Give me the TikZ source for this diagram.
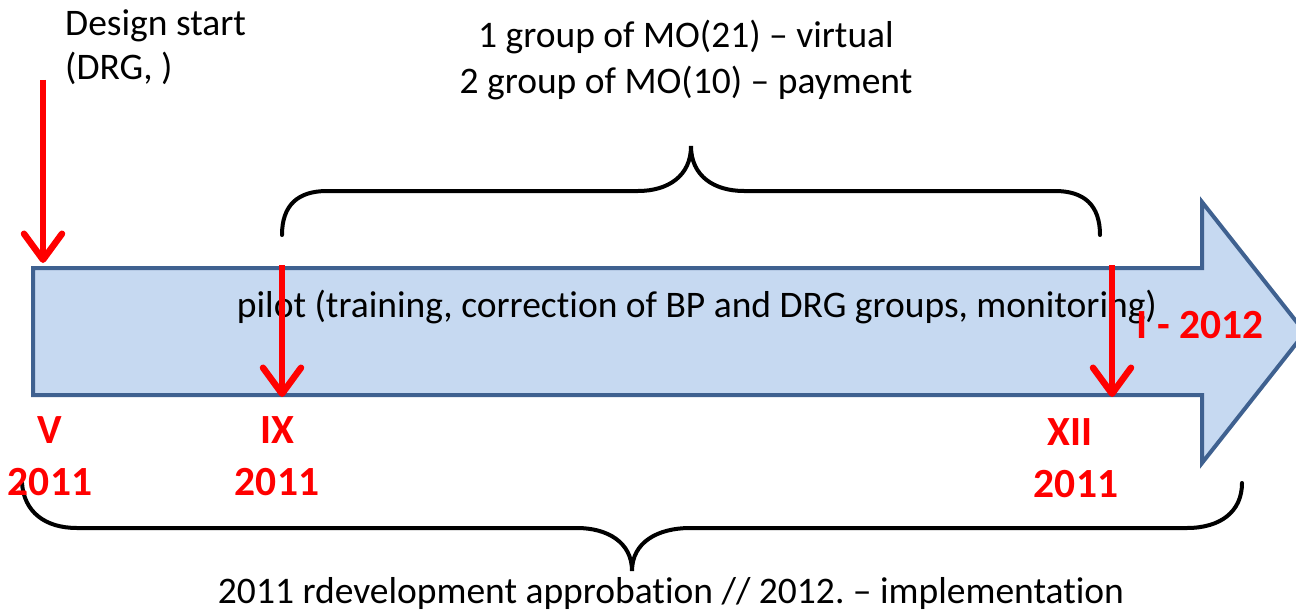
\documentclass[tikz,border=0pt]{standalone}
\usepackage{fontspec}
\setmainfont{Carlito}[Ligatures={NoCommon}]
\usetikzlibrary{arrows.meta}
\definecolor{arrowfill}{HTML}{C6D9F1}
\definecolor{arrowline}{HTML}{3F6190}
\definecolor{tred}{HTML}{FF0000}
\frenchspacing
\tikzset{
  bigarrow/.style={fill=arrowfill, draw=arrowline, line width=4pt, miter limit=10},
  redarrow/.style={draw=tred, line width=6.5pt, -{Straight Barb[length=26pt,width=38pt,round]}},
  brace/.style={draw=black, line width=4pt, line cap=round},
  plaintext/.style={inner sep=0pt, font=\fontsize{37.5}{45}\selectfont, text=black},
  redtext/.style={inner sep=0pt, font=\fontsize{41.5}{50}\selectfont\bfseries, text=tred},
}
\begin{document}
\begin{tikzpicture}[x=1pt,y=-1pt]
\useasboundingbox (0,0) rectangle (1296,610);
% big arrow
\draw[bigarrow] (33,268) -- (1202,268) -- (1202,202) -- (1305,332.5) -- (1202,463) -- (1202,395) -- (33,395) -- cycle;
% texts
\node[plaintext, anchor=base west] (ds1) at (65,36) {Design start};
\node[plaintext, anchor=base west] (ds2) at (65,80) {(DRG, )};
\node[plaintext, anchor=base] (g1) at (686,48) {1 group of MO(21) – virtual};
\node[plaintext, anchor=base] (g2) at (686,93) {2 group of MO(10) – payment};
\node[plaintext, anchor=base] (pilot) at (697,317) {pilot (training, correction of BP and DRG groups, monitoring)};
\node[plaintext, anchor=base] (bottom) at (671,603) {2011 rdevelopment approbation // 2012.\ – implementation};
% braces
\draw[brace] (282,235) .. controls (282,205) and (298,191) .. (327,191) -- (638,191)
  .. controls (668,191) and (691,176) .. (691,146)
  .. controls (691,176) and (714,191) .. (744,191) -- (1055,191)
  .. controls (1084,191) and (1100,205) .. (1100,235);
\draw[brace] (22,483) .. controls (24,512) and (45,528) .. (77,528) -- (577,528)
  .. controls (607,528) and (632,542) .. (632,571)
  .. controls (632,542) and (658,528) .. (690,528) -- (1187,528)
  .. controls (1220,528) and (1242,512) .. (1242,483);
% red arrows
\coordinate (a0) at (43,80);
\coordinate (a1) at (43,263);
\coordinate (b0) at (282,265);
\coordinate (b1) at (282,397);
\coordinate (c0) at (1112,265);
\coordinate (c1) at (1112,397);
\draw[redarrow] (a0) -- (a1);
\draw[redarrow] (b0) -- (b1);
\draw[redarrow] (c0) -- (c1);
% red labels
\node[redtext, anchor=base] (i2012) at (1200,338) {I - 2012};
\node[redtext, anchor=base] (v) at (50,443) {V};
\node[redtext, anchor=base] (v2011) at (50,495) {2011};
\node[redtext, anchor=base] (ix) at (277,443) {IX};
\node[redtext, anchor=base] (ix2011) at (277,495) {2011};
\node[redtext, anchor=base] (xii) at (1070,445) {XII};
\node[redtext, anchor=base] (xii2011) at (1076,497) {2011};
\end{tikzpicture}
\end{document}
